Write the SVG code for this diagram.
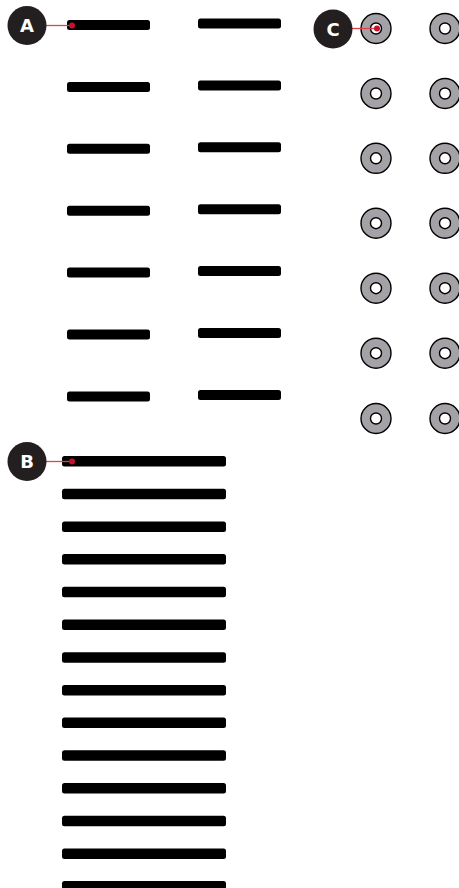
<svg xmlns="http://www.w3.org/2000/svg" width="459" height="888" viewBox="0 0 459 888">
<style>
.bar{fill:#000}
.ring{fill:#a4a2a6;stroke:#000;stroke-width:1.4}
.hole{fill:#fff;stroke:#000;stroke-width:1.4}
.badge{fill:#231f20}
.lbl{fill:#fff;font-family:"DejaVu Sans","Liberation Sans",sans-serif;font-weight:bold;font-size:18px;text-anchor:middle}
.lead{stroke:#e0424c;stroke-width:1.3;fill:none}
.dot{fill:#c8102e}
</style>
<defs>
<rect id="sb" x="0" y="-5" width="83" height="10" rx="2.5"/>
<rect id="lb" x="0" y="-5" width="164" height="10.5" rx="2.5"/>
<g id="w"><circle r="15" class="ring"/><circle r="5.5" class="hole"/></g>
</defs>
<g id="bars-a" class="bar">
<use href="#sb" x="67" y="25"/><use href="#sb" x="67" y="86.9"/><use href="#sb" x="67" y="148.8"/><use href="#sb" x="67" y="210.7"/><use href="#sb" x="67" y="272.6"/><use href="#sb" x="67" y="334.5"/><use href="#sb" x="67" y="396.4"/>
<use href="#sb" x="198" y="23.5"/><use href="#sb" x="198" y="85.4"/><use href="#sb" x="198" y="147.3"/><use href="#sb" x="198" y="209.2"/><use href="#sb" x="198" y="271.1"/><use href="#sb" x="198" y="333"/><use href="#sb" x="198" y="394.9"/>
</g>
<g id="washers-c">
<use href="#w" x="376" y="28.5"/><use href="#w" x="445" y="28.5"/>
<use href="#w" x="376" y="93.5"/><use href="#w" x="445" y="93.5"/>
<use href="#w" x="376" y="158.3"/><use href="#w" x="445" y="158.3"/>
<use href="#w" x="376" y="223.2"/><use href="#w" x="445" y="223.2"/>
<use href="#w" x="376" y="288.2"/><use href="#w" x="445" y="288.2"/>
<use href="#w" x="376" y="353.2"/><use href="#w" x="445" y="353.2"/>
<use href="#w" x="376" y="418.5"/><use href="#w" x="445" y="418.5"/>
</g>
<g id="bars-b" class="bar">
<use href="#lb" x="62" y="461"/><use href="#lb" x="62" y="493.7"/><use href="#lb" x="62" y="526.4"/><use href="#lb" x="62" y="559.1"/><use href="#lb" x="62" y="591.8"/><use href="#lb" x="62" y="624.5"/><use href="#lb" x="62" y="657.2"/><use href="#lb" x="62" y="689.9"/><use href="#lb" x="62" y="722.6"/><use href="#lb" x="62" y="755.3"/><use href="#lb" x="62" y="788"/><use href="#lb" x="62" y="820.7"/><use href="#lb" x="62" y="853.4"/><use href="#lb" x="62" y="886.1"/>
</g>
<g id="connectors">
<line class="lead" x1="46" y1="25.5" x2="72" y2="25.5"/>
<line class="lead" x1="46" y1="461.5" x2="72" y2="461.5"/>
<line class="lead" x1="352" y1="28.5" x2="377" y2="28.5"/>
<circle class="dot" cx="72" cy="25.5" r="3"/>
<circle class="dot" cx="72" cy="461.5" r="3"/>
<circle class="dot" cx="377" cy="28.5" r="3"/>
</g>
<g id="label-a"><circle class="badge" cx="27" cy="25.5" r="19.5"/><text class="lbl" x="27" y="32">A</text></g>
<g id="label-b"><circle class="badge" cx="27" cy="461.5" r="19.5"/><text class="lbl" x="27" y="468">B</text></g>
<g id="label-c"><circle class="badge" cx="333" cy="29" r="19.5"/><text class="lbl" x="333" y="35.5">C</text></g>
</svg>
